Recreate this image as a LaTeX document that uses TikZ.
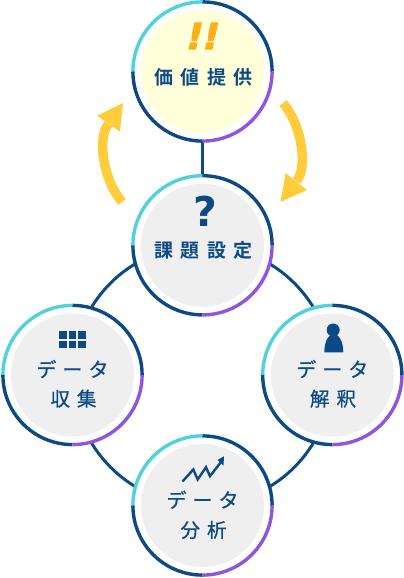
\documentclass[tikz,border=0pt]{standalone}
\usepackage{fontspec}
\usetikzlibrary{backgrounds,calc}
\newfontfamily\jpbold[LetterSpace=40]{Noto Sans CJK JP Bold}
\newfontfamily\jpreg[LetterSpace=30,FakeBold=0.6]{Noto Sans CJK JP}
\newfontfamily\jpregb[LetterSpace=36,FakeBold=0.6]{Noto Sans CJK JP}
\newfontfamily\symb{DejaVu Sans Bold}
\newfontfamily\bangfont[FakeSlant=0.22,FakeBold=3.2]{DejaVu Sans Bold}
\definecolor{navy}{HTML}{0B4A85}
\definecolor{ringcyan}{HTML}{4FD2DC}
\definecolor{ringpurple}{HTML}{8F55E0}
\definecolor{discgrey}{HTML}{EFEFEF}
\definecolor{discyellow}{HTML}{FFFFD9}
\definecolor{arrowyellow}{HTML}{FFCD3C}
\definecolor{bangorange}{HTML}{FFAE1A}
\tikzset{
  disc/.style={circle,minimum size=123pt,inner sep=0pt,fill=#1},
  ringpart/.style={line width=3.4pt,line cap=butt},
  link/.style={draw=navy,line width=3pt},
  bigarrow/.style={draw=arrowyellow,line width=9.5pt,line cap=butt},
  arrowhead/.style={fill=arrowyellow},
  titletext/.style={inner sep=0pt,text=navy,font=\jpbold\fontsize{19}{19}\selectfont},
  steptext/.style={inner sep=0pt,text=navy,font=\jpreg\fontsize{20}{20}\selectfont},
  subtext/.style={inner sep=0pt,text=navy,font=\jpregb\fontsize{19.5}{20}\selectfont},
  icon/.style={fill=navy},
}
\newcommand{\ringfor}[1]{%
  \draw[ringpart,ringcyan] ($(#1.center)+(0,69.6pt)$) arc[start angle=90,end angle=180,radius=69.6pt];
  \draw[ringpart,navy] ($(#1.center)+(-69.6pt,0)$) arc[start angle=180,end angle=270,radius=69.6pt];
  \draw[ringpart,ringpurple] ($(#1.center)+(0,-69.6pt)$) arc[start angle=270,end angle=360,radius=69.6pt];
  \draw[ringpart,navy] ($(#1.center)+(69.6pt,0)$) arc[start angle=0,end angle=90,radius=69.6pt];
}
\begin{document}
\begin{tikzpicture}[x=1pt,y=1pt]
\useasboundingbox (0,0) rectangle (404,578);
\node[disc=discyellow] (value) at (202.5,506.5) {};
\node[disc=discgrey] (issue) at (202.5,332.7) {};
\node[disc=discgrey] (collect) at (72.5,203) {};
\node[disc=discgrey] (interpret) at (332.3,203) {};
\node[disc=discgrey] (analyse) at (202.5,72.5) {};
\ringfor{value}\ringfor{issue}\ringfor{collect}\ringfor{interpret}\ringfor{analyse}
\begin{scope}[on background layer]
  \fill[white] (0,0) rectangle (404,578);
  \draw[link] (value.center) -- (issue.center);
  \draw[link] (issue.center) to[bend right=45] (collect.center);
  \draw[link] (collect.center) to[bend right=45] (analyse.center);
  \draw[link] (analyse.center) to[bend right=45] (interpret.center);
  \draw[link] (interpret.center) to[bend right=45] (issue.center);
  \foreach \n in {value,issue,collect,interpret,analyse}
    \fill[white] (\n.center) circle (69.6pt);
\end{scope}
\node[titletext] (t1) at (203.5,501) {価値提供};
\node[titletext] (t2) at (203.5,327.3) {課題設定};
\node[steptext] (t3a) at (72.5,209) {データ};
\node[subtext] (t3b) at (73.5,179.3) {収集};
\node[steptext] (t4a) at (332.3,209) {データ};
\node[subtext] (t4b) at (333,179.3) {解釈};
\node[steptext] (t5a) at (202.5,78.3) {データ};
\node[subtext] (t5b) at (203.5,48) {分析};
\node[inner sep=0pt,text=bangorange,font=\bangfont\fontsize{36}{36}\selectfont] (bang) at (200.5,542) {!!};
\node[inner sep=0pt,text=navy,font=\symb\fontsize{41}{41}\selectfont] (quest) at (205,367) {?};
\coordinate (la) at (122,376);
\coordinate (lb) at (108.5,454);
\coordinate (ra) at (283,475);
\coordinate (rb) at (296.5,397);
\draw[bigarrow] (la) .. controls (103,398) and (97,441) .. (lb);
\fill[arrowhead] (123,475) -- (97,462.3) -- (120,446.3) -- cycle;
\draw[bigarrow] (ra) .. controls (302,453) and (308,410) .. (rb);
\fill[arrowhead] (280.5,376) -- (307,388) -- (285.5,405) -- cycle;
\foreach \cx in {63,72.5,82}\foreach \cy in {243.2,233.6}
  \fill[icon] (\cx-3.8,\cy-3.8) rectangle (\cx+3.8,\cy+3.8);
\fill[icon] (333.2,248) circle (6.5);
\fill[icon] (324.3,225.5) -- (343.3,225.5) .. controls (343.3,238) and (338,244) .. (333.8,244) .. controls (329.5,244) and (324.3,238) .. (324.3,225.5) -- cycle;
\draw[navy,line width=2.4pt] (182.5,96.5) -- (193.3,108.5) -- (197.7,98.5) -- (206,110.8) -- (210,101.8) -- (221,116);
\fill[icon] (224,121.7) -- (217.5,118) -- (223.5,112.5) -- cycle;
\end{tikzpicture}
\end{document}
